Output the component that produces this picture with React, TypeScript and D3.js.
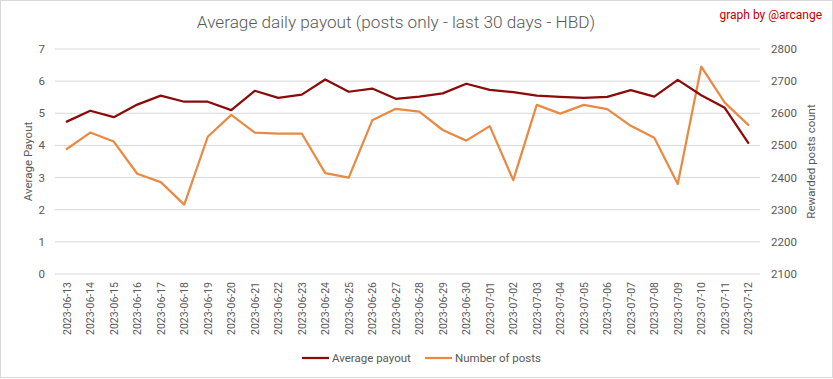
import React from "react";
import * as d3 from "d3";

const dates = [
  "2023-06-13","2023-06-14","2023-06-15","2023-06-16","2023-06-17","2023-06-18","2023-06-19","2023-06-20",
  "2023-06-21","2023-06-22","2023-06-23","2023-06-24","2023-06-25","2023-06-26","2023-06-27","2023-06-28",
  "2023-06-29","2023-06-30","2023-07-01","2023-07-02","2023-07-03","2023-07-04","2023-07-05","2023-07-06",
  "2023-07-07","2023-07-08","2023-07-09","2023-07-10","2023-07-11","2023-07-12",
];
const avgPayout = [
  4.74, 5.08, 4.88, 5.27, 5.55, 5.36, 5.36, 5.10, 5.70, 5.48, 5.58, 6.05, 5.67, 5.77, 5.45, 5.52,
  5.62, 5.92, 5.73, 5.66, 5.55, 5.51, 5.48, 5.51, 5.72, 5.52, 6.04, 5.56, 5.17, 4.08,
];
const postCount = [
  2489, 2540, 2512, 2412, 2386, 2316, 2527, 2595, 2540, 2537, 2537, 2414, 2400, 2578, 2614, 2605,
  2548, 2515, 2560, 2392, 2626, 2599, 2626, 2613, 2561, 2524, 2380, 2745, 2633, 2564,
];
const leftTicks = [0, 1, 2, 3, 4, 5, 6, 7];
const rightTicks = [2100, 2200, 2300, 2400, 2500, 2600, 2700, 2800];

const W = 833, H = 379;
const FONT = "Roboto, 'Noto Sans', sans-serif";
const TXT = "#595959";
const RED = "#8B0A0A";
const ORANGE = "#E98A44";

export default function App() {
  const plotL = 55, plotR = 760, plotT = 49, plotB = 274;
  const x = d3.scaleBand<string>().domain(dates).range([plotL, plotR]);
  const cx = (d: string) => (x(d) as number) + x.bandwidth() / 2;
  const yL = d3.scaleLinear().domain([0, 7]).range([plotB, plotT]);
  const yR = d3.scaleLinear().domain([2100, 2800]).range([plotB, plotT]);
  const lineL = d3.line<number>().x((_, i) => cx(dates[i])).y((v) => yL(v));
  const lineR = d3.line<number>().x((_, i) => cx(dates[i])).y((v) => yR(v));

  return (
    <svg width={W} height={H} style={{ position: "absolute", left: 0, top: 0, background: "#fff" }} fontFamily={FONT}>
      <rect x={0.5} y={0.5} width={W - 1} height={H - 2} fill="#fff" stroke="#d9d9d9" />
      <text x={396} y={28} textAnchor="middle" fontSize={17.2} fill={TXT} fontWeight={300}>
        Average daily payout (posts only - last 30 days - HBD)
      </text>
      <text x={822} y={19} textAnchor="end" fontSize={12} fill="#C00000">graph by @arcange</text>
      {leftTicks.map((t) => (
        <line key={t} x1={plotL} x2={plotR} y1={yL(t)} y2={yL(t)} stroke="#d9d9d9" strokeWidth={1} />
      ))}
      {leftTicks.map((t) => (
        <text key={"l" + t} x={45} y={yL(t) + 4} textAnchor="end" fontSize={11.5} fill={TXT}>{t}</text>
      ))}
      {rightTicks.map((t) => (
        <text key={"r" + t} x={771} y={yR(t) + 4} textAnchor="start" fontSize={11.5} fill={TXT}>{t}</text>
      ))}
      <text transform={`translate(32,${(plotT + plotB) / 2}) rotate(-90)`} textAnchor="middle" fontSize={11.5} fill={TXT}>Average Payout</text>
      <text transform={`translate(815,${(plotT + plotB) / 2}) rotate(-90)`} textAnchor="middle" fontSize={11.5} fill={TXT}>Rewarded posts count</text>
      {dates.map((d) => (
        <text key={d} transform={`translate(${cx(d) + 4},${282}) rotate(-90)`} textAnchor="end" fontSize={10.5} fill={TXT}>{d}</text>
      ))}
      <path d={lineR(postCount) || ""} fill="none" stroke={ORANGE} strokeWidth={2.25} strokeLinejoin="round" strokeLinecap="round" />
      <path d={lineL(avgPayout) || ""} fill="none" stroke={RED} strokeWidth={2.25} strokeLinejoin="round" strokeLinecap="round" />
      <line x1={302} x2={329} y1={358} y2={358} stroke={RED} strokeWidth={2.25} />
      <text x={332} y={362} fontSize={11.5} fill={TXT}>Average payout</text>
      <line x1={425} x2={452} y1={358} y2={358} stroke={ORANGE} strokeWidth={2.25} />
      <text x={455} y={362} fontSize={11.5} fill={TXT}>Number of posts</text>
    </svg>
  );
}
